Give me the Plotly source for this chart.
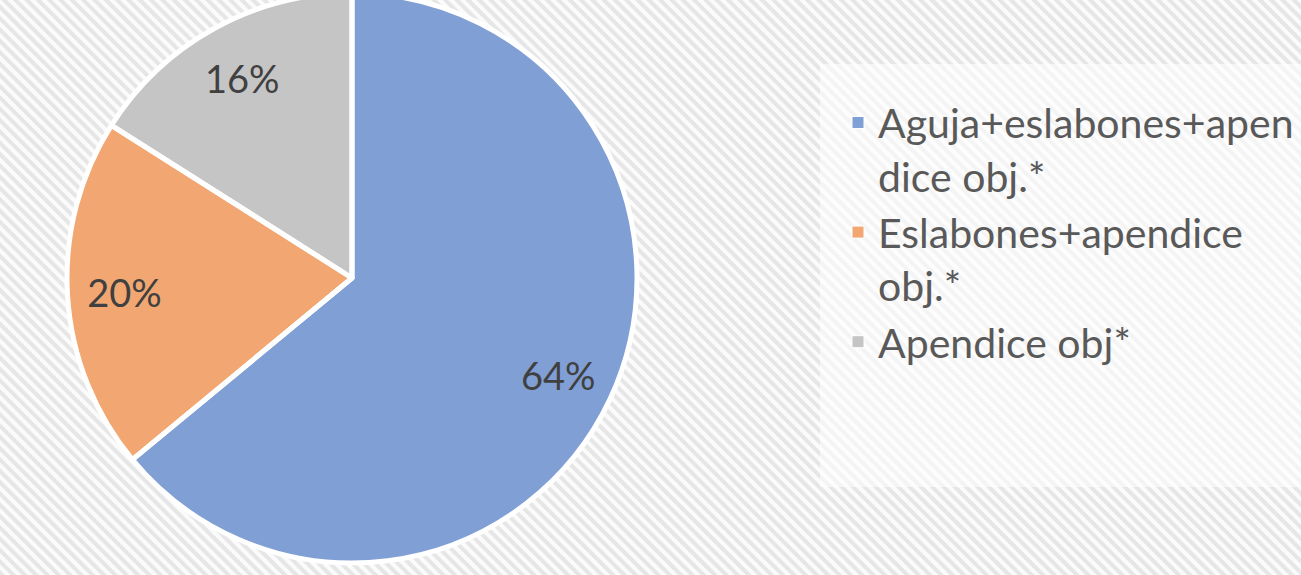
import base64
import plotly.graph_objects as go

categorias = [
    "Aguja+eslabones+apen<br>dice obj.*",
    "Eslabones+apendice<br>obj.*",
    "Apendice obj*",
]
porcentajes = [64, 20, 16]
colores = ["#809fd5", "#f2a772", "#c5c5c5"]

W = 1301
H = 585          # un poco más alto; la página lo sube 7 px (el título queda fuera)
B = 15
SUBIR = 7

# fondo rayado + panel claro de la leyenda
svg_fondo = f"""<svg xmlns="http://www.w3.org/2000/svg" width="{W}" height="{H}">
<defs>
<pattern id="rayas" width="8" height="8" patternUnits="userSpaceOnUse" patternTransform="rotate(45)">
<rect width="8" height="8" fill="#fbfbfb"/>
<rect width="8" height="4" fill="#e6e6e6"/>
</pattern>
</defs>
<rect width="{W}" height="{H}" fill="url(#rayas)"/>
<rect x="820" y="71" width="{W - 820}" height="423" fill="#ffffff" fill-opacity="0.55"/>
</svg>"""
fondo_uri = "data:image/svg+xml;base64," + base64.b64encode(svg_fondo.encode()).decode()

dominio = dict(x=[67 / W, 637 / W], y=[0, 1])

fig = go.Figure()
# relleno + leyenda
fig.add_trace(go.Pie(
    labels=categorias, values=porcentajes, sort=False,
    direction="clockwise", rotation=0,
    marker=dict(colors=colores, line=dict(color="white", width=1)),
    textinfo="none", domain=dominio, hoverinfo="label+percent",
))
# bordes blancos entre sectores
fig.add_trace(go.Pie(
    labels=categorias, values=porcentajes, sort=False,
    direction="clockwise", rotation=0,
    marker=dict(colors=["rgba(0,0,0,0)"] * 3, line=dict(color="white", width=5)),
    textinfo="none", domain=dominio, showlegend=False, hoverinfo="skip",
))
# etiquetas de porcentaje (anillo transparente para llevarlas hacia fuera)
fig.add_trace(go.Pie(
    labels=categorias, values=porcentajes, sort=False,
    direction="clockwise", rotation=0, hole=0.6,
    marker=dict(colors=["rgba(0,0,0,0)"] * 3, line=dict(width=0)),
    texttemplate="%{percent:.0%}",
    textposition="inside",
    insidetextorientation="horizontal",
    textfont=dict(family="Lato", size=38, color="#404040"),
    domain=dominio, showlegend=False, hoverinfo="skip",
))

fig.update_layout(
    width=W,
    height=H,
    margin=dict(l=0, r=0, t=0, b=B),
    paper_bgcolor="white",
    legend=dict(
        x=838 / W,
        y=0.831,
        xanchor="left",
        yanchor="top",
        valign="top",
        bgcolor="rgba(0,0,0,0)",
        font=dict(family="Lato", size=41, color="#595959"),
    ),
    images=[dict(
        source=fondo_uri,
        xref="paper", yref="paper",
        x=0, y=1,
        sizex=1, sizey=H / (H - B),
        xanchor="left", yanchor="top",
        sizing="stretch",
        layer="below",
    )],
)

fig.write_html(
    "out.html",
    config={"displayModeBar": False},
    post_script=(
        "document.body.style.margin='0';"
        "document.body.style.overflow='hidden';"
        f"document.getElementById('{{plot_id}}').style.marginTop='-{SUBIR}px';"
    ),
)
